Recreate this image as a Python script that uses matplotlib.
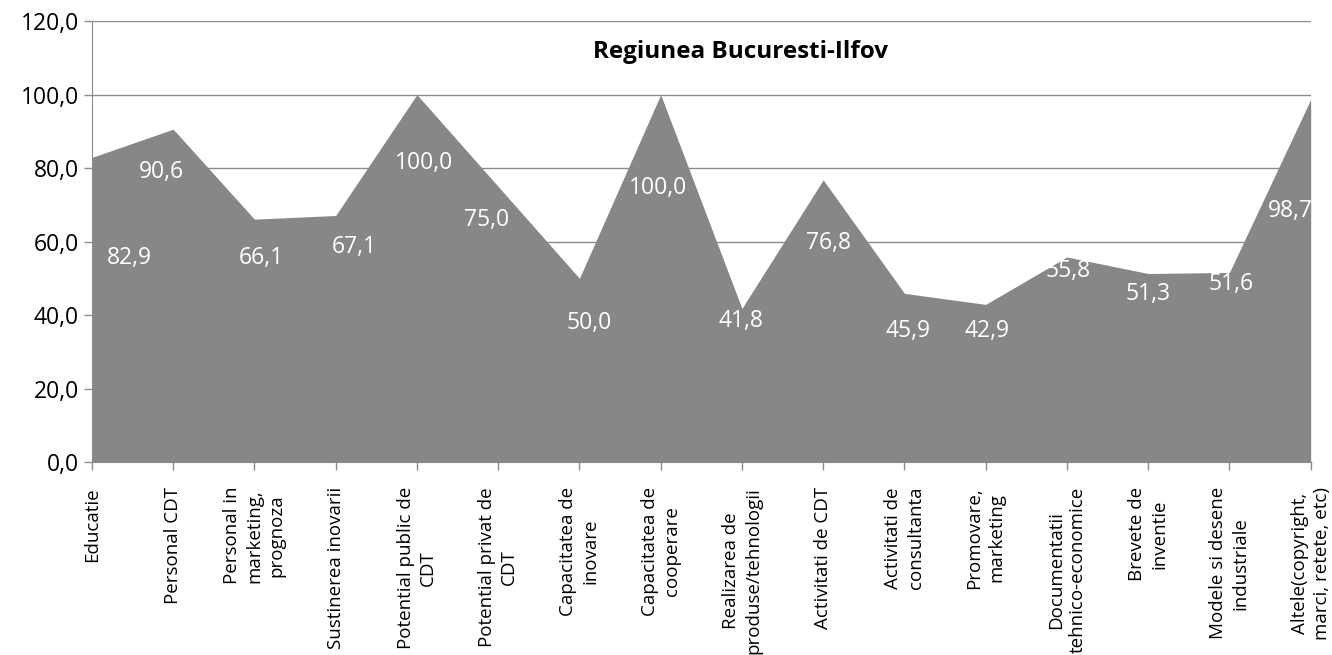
import matplotlib.pyplot as plt
import numpy as np

# %% data
categories = [
    "Educatie", "Personal CDT", "Personal in\nmarketing,\nprognoza", "Sustinerea inovarii",
    "Potential public de\nCDT", "Potential privat de\nCDT", "Capacitatea de\ninovare",
    "Capacitatea de\ncooperare", "Realizarea de\nproduse/tehnologii", "Activitati de CDT",
    "Activitati de\nconsultanta", "Promovare,\nmarketing", "Documentatii\ntehnico-economice",
    "Brevete de\ninventie", "Modele si desene\nindustriale", "Altele(copyright,\nmarci, retete, etc)",
]
values = [82.9, 90.6, 66.1, 67.1, 100.0, 75.0, 50.0, 100.0, 41.8, 76.8, 45.9, 42.9, 55.8, 51.3, 51.6, 98.7]
title = "Regiunea Bucuresti-Ilfov"

# label offsets in pixels (dx, dy) from each point, as placed in the original
label_dx = [37, -12, 7, 19, 7, -12, 10, -3, -1, 5, 4, 1, 1, 0, 2, -20]
label_dy = [-101, -43, -39, -32, -68, -34, -45, -93, -13, -63, -38, -27, -14, -20, -12, -112]

plt.rcParams['font.family'] = ['Open Sans', 'DejaVu Sans']

# %% plot
fig = plt.figure(figsize=(13.32, 6.55), dpi=100)
ax = fig.add_axes([0.069, 0.2947, 0.915, 0.673])

x = np.arange(len(values))
ax.fill_between(x, values, 0, color='#878787', linewidth=0, zorder=2)

ax.set_xlim(0, len(values) - 1)
ax.set_ylim(0, 120)
ax.set_yticks(np.arange(0, 121, 20))
ax.set_yticklabels([f"{v:.1f}".replace('.', ',') for v in np.arange(0, 121, 20)], fontsize=16.5)
ax.set_xticks(x)
ax.set_xticklabels(categories, rotation=90, fontsize=13.5, multialignment='center',
                   ha='center', va='top', linespacing=1.3)

ax.grid(axis='y', color='#8c8c8c', linewidth=1, zorder=1)
for side in ['top', 'right']:
    ax.spines[side].set_visible(False)
for side in ['left', 'bottom']:
    ax.spines[side].set_color('#8c8c8c')
ax.tick_params(axis='both', color='#8c8c8c', length=6, width=1)
ax.tick_params(axis='x', pad=12)

for xi, v, dx, dy in zip(x, values, label_dx, label_dy):
    ax.annotate(f"{v:.1f}".replace('.', ','), (xi, v), xytext=(dx, dy),
                textcoords='offset pixels', ha='center', va='center',
                color='white', fontsize=16.5, zorder=3, annotation_clip=False,
                clip_on=False)

fig.text(0.556, 0.92, title, ha='center', va='center', fontsize=17.5, fontweight='bold')

plt.savefig('out.png', dpi=100)
